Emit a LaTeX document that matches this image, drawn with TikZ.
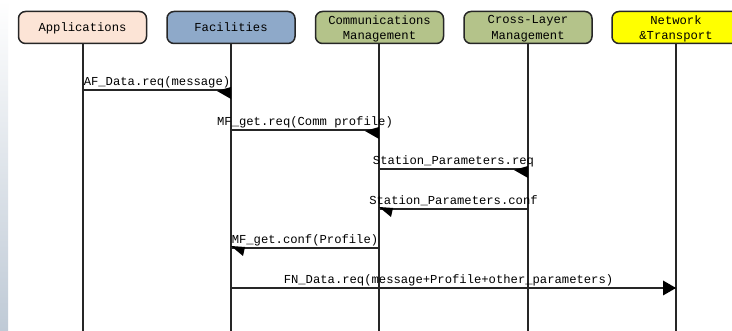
\documentclass[tikz,border=0pt]{standalone}
\usepackage{fontspec}
\setmainfont{Liberation Mono}
\usetikzlibrary{calc}
\definecolor{appcol}{HTML}{FCE4D6}
\definecolor{faccol}{HTML}{8EA9C9}
\definecolor{mgmtcol}{HTML}{B4C38A}
\definecolor{netcol}{HTML}{FFFF00}
\definecolor{edgecol}{HTML}{262626}
\definecolor{stripcol}{HTML}{BFCAD6}
\begin{document}
\begin{tikzpicture}[x=1pt,y=-1pt,
  hdr/.style={draw=edgecol, line width=1.5pt, rounded corners=7pt, minimum width=128pt,
    minimum height=32pt, inner sep=0pt, align=center, text depth=0pt,
    font=\fontsize{12.2}{15.5}\selectfont},
  life/.style={draw=edgecol, line width=1.3pt},
  msg/.style={draw=edgecol, line width=1.3pt},
  lbl/.style={inner sep=0pt, anchor=base, yshift=4pt, font=\fontsize{12.2}{14}\selectfont},
  tip/.style={fill=black}]
\useasboundingbox (0,0) rectangle (732,331);
\fill[white] (0,0) rectangle (732,331);
\shade[top color=white, bottom color=stripcol, shading angle=0] (0,0) rectangle (8,331);
% headers
\node[hdr, fill=appcol] (app) at (82.5,27.5) {Applications};
\node[hdr, fill=faccol] (fac) at (231,27.5) {Facilities};
\node[hdr, fill=mgmtcol] (com) at (379.5,27.5) {Communications\\Management};
\node[hdr, fill=mgmtcol] (cro) at (528,27.5) {Cross-Layer\\Management};
\node[hdr, fill=netcol] (net) at (676,27.5) {Network\\\&Transport};
% lifeline ends
\coordinate (appE) at (83,331);
\coordinate (facE) at (231,331);
\coordinate (comE) at (379,331);
\coordinate (croE) at (528,331);
\coordinate (netE) at (676,331);
\draw[life] (app.south -| appE) -- (appE);
\draw[life] (fac.south -| facE) -- (facE);
\draw[life] (com.south -| comE) -- (comE);
\draw[life] (cro.south -| croE) -- (croE);
\draw[life] (net.south -| netE) -- (netE);
% message points
\coordinate (a1) at (83,90);  \coordinate (f1) at (231,90);
\coordinate (f2) at (231,130); \coordinate (c2) at (379,130);
\coordinate (c3) at (379,169); \coordinate (r3) at (528,169);
\coordinate (c4) at (379,209); \coordinate (r4) at (528,209);
\coordinate (f5) at (231,248); \coordinate (c5) at (379,248);
\coordinate (f6) at (231,288); \coordinate (n6) at (676,288);
% messages
\draw[msg] (a1) -- (f1) node[lbl, midway] {AF\_Data.req(message)};
\fill[tip] (f1) ++(-14,1) -- ++(14,-4) -- ++(0,12) -- cycle;
\draw[msg] (f2) -- (c2) node[lbl, midway] {MF\_get.req(Comm profile)};
\fill[tip] (c2) ++(-14,1) -- ++(14,-4) -- ++(0,12) -- cycle;
\draw[msg] (c3) -- (r3) node[lbl, midway] {Station\_Parameters.req};
\fill[tip] (r3) ++(-14,1) -- ++(14,-4) -- ++(0,12) -- cycle;
\draw[msg] (r4) -- (c4) node[lbl, midway] {Station\_Parameters.conf};
\fill[tip] (c4) ++(0,-2) -- ++(14,1) -- ++(-2,9) -- cycle;
\draw[msg] (c5) -- (f5) node[lbl, midway] {MF\_get.conf(Profile)};
\fill[tip] (f5) ++(0,-2) -- ++(14,1) -- ++(-2,9) -- cycle;
\draw[msg] (f6) -- (n6) node[lbl, midway, xshift=-5pt] {FN\_Data.req(message+Profile+other\_parameters)};
\fill[tip] (n6) -- ++(-13,-7.5) -- ++(0,15) -- cycle;
\end{tikzpicture}
\end{document}
